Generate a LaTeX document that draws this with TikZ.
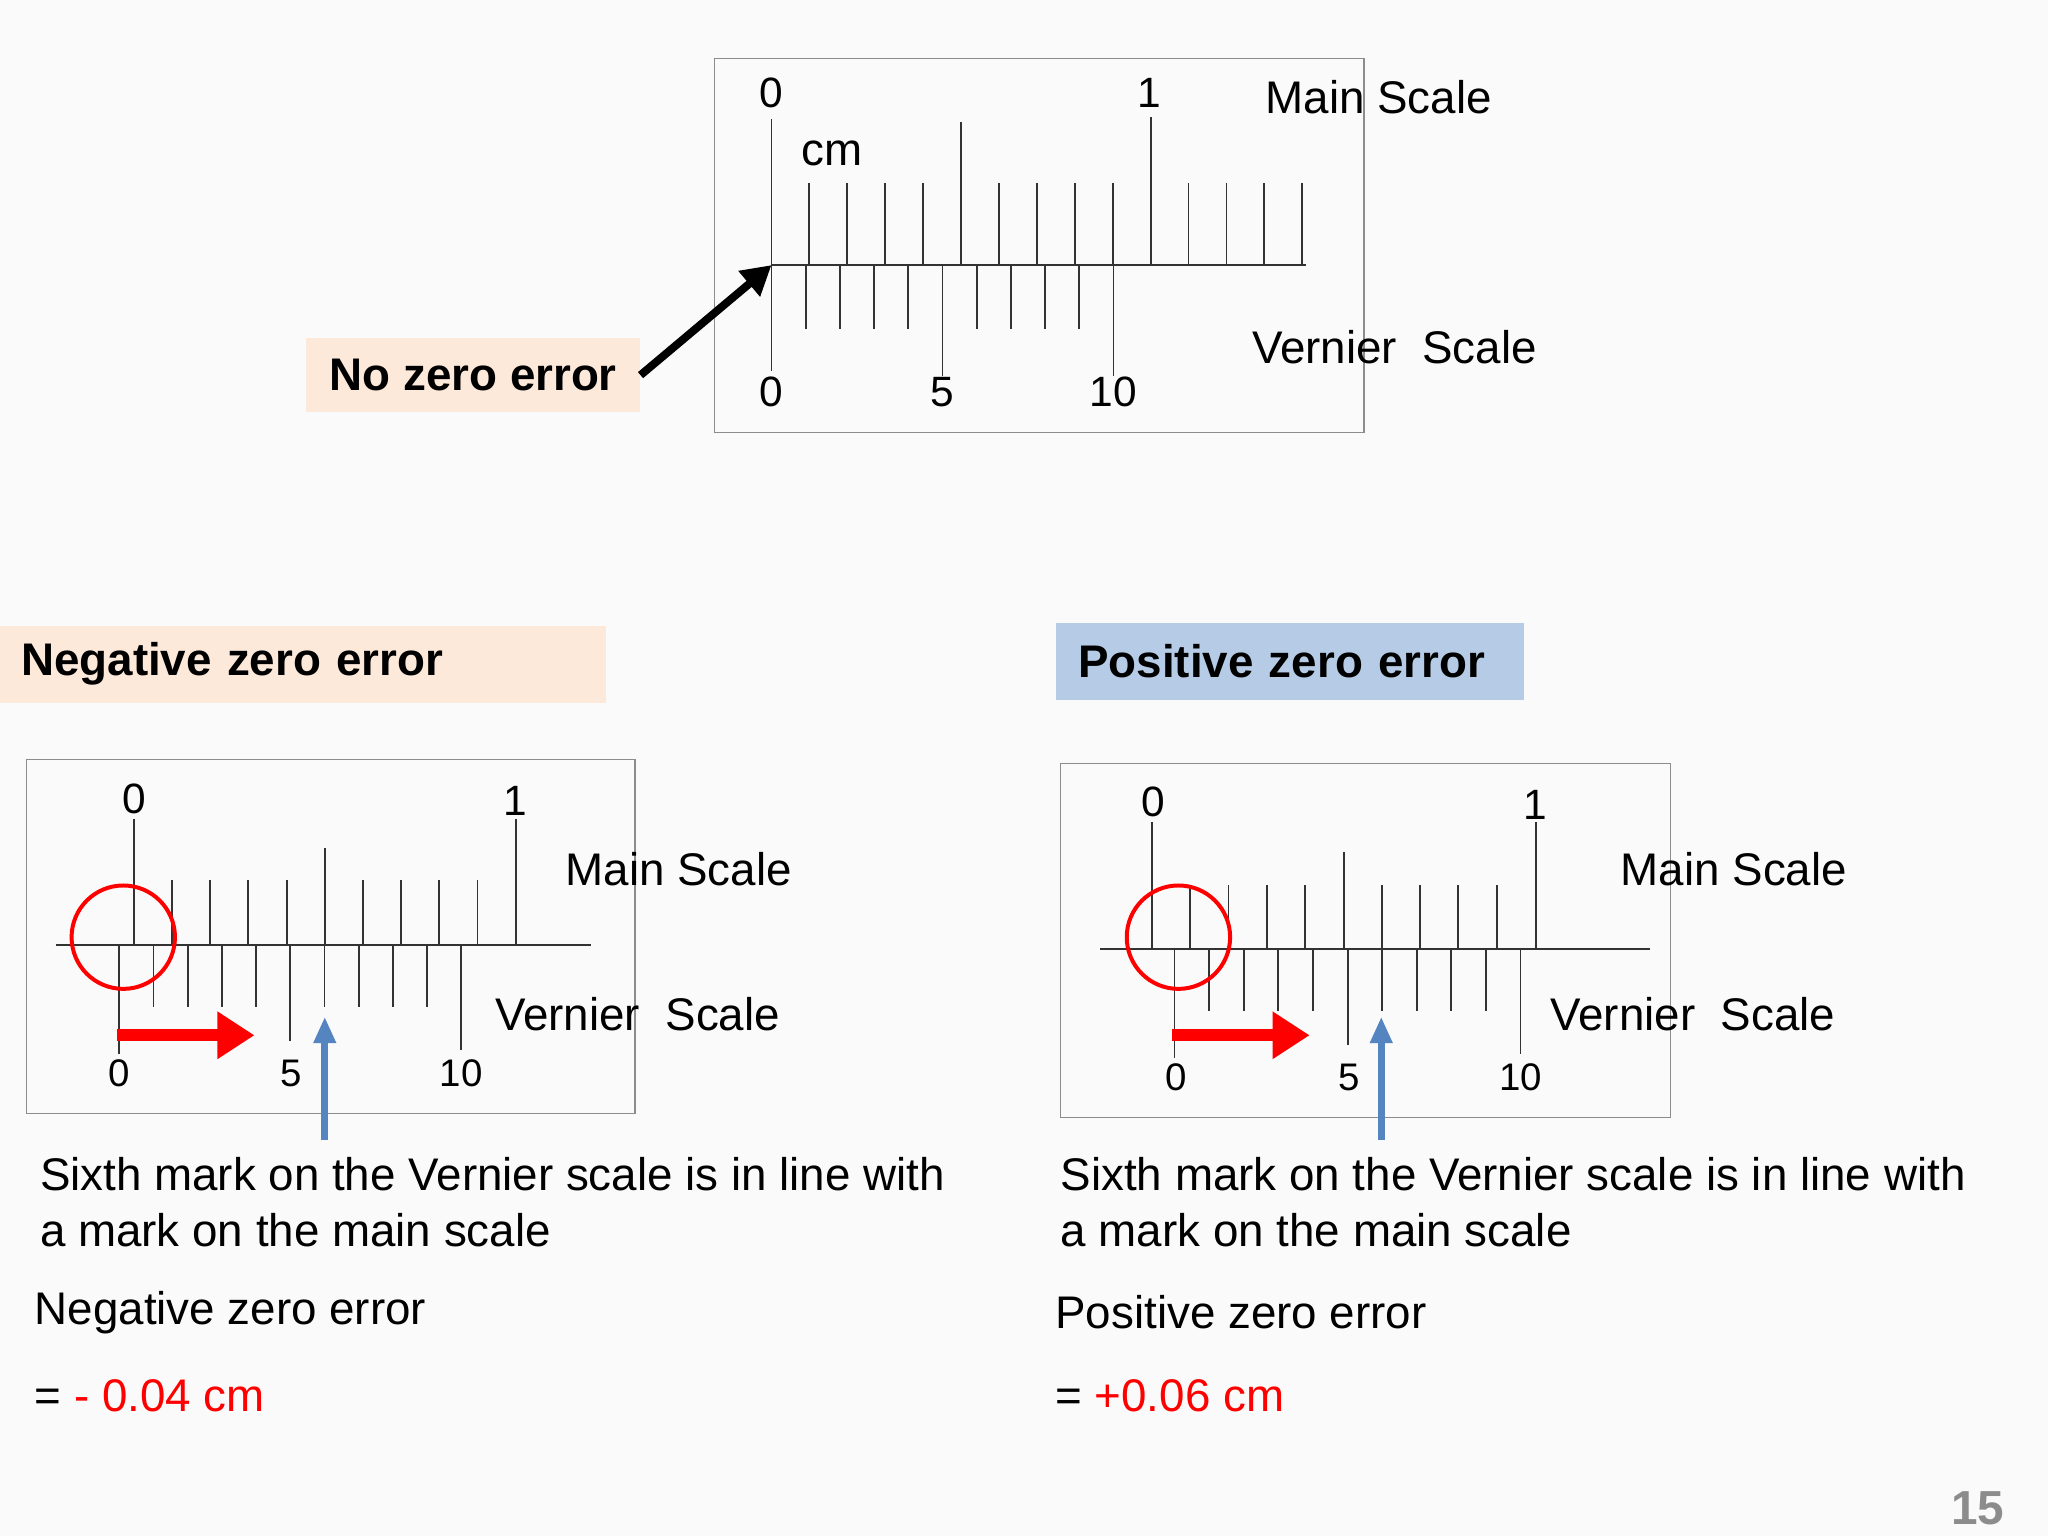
\documentclass[tikz,border=0pt]{standalone}
\usepackage{fontspec}
\setmainfont{Liberation Sans}
\usetikzlibrary{arrows.meta}
\definecolor{peach}{HTML}{FCE9DA}
\definecolor{lblue}{HTML}{B6CCE6}
\definecolor{barrow}{HTML}{5585C0}
\tikzset{
 tk/.style={line width=1.4pt,black!80},
 frm/.style={draw=black!45,line width=0.9pt},
 big/.style={font=\fontsize{34.5}{42}\selectfont},
 num/.style={font=\fontsize{32}{36}\selectfont},
 snum/.style={font=\fontsize{29}{32}\selectfont},
 lbl/.style={font=\bfseries\fontsize{34.5}{40}\selectfont},
 txt/.style={big,anchor=west,inner sep=0pt},
 redarr/.style={draw=red,line width=9pt,-{Triangle[length=28pt,width=34pt]}},
 bluarr/.style={draw=barrow,line width=5pt,-{Triangle[length=20pt,width=16pt]}},
}
\begin{document}
\begin{tikzpicture}[x=1pt,y=-1pt]
\useasboundingbox[fill=black!2] (0,0) rectangle (1545,1159);
% ===== top
\draw[frm] (539,44) rectangle (1029,326);
\draw[tk] (582,200) -- (985,200);
\draw[tk] (582,200) -- (582,90);
\foreach \i in {1,...,14}{\draw[tk] ({582+28.6*\i},200) -- ({582+28.6*\i},138);}
\draw[tk] (725,200) -- (725,92);
\draw[tk] (868,200) -- (868,88);
\foreach \i in {0,...,10}{\draw[tk] ({582+25.8*\i},200) -- ({582+25.8*\i},248);}
\draw[tk] (582,200) -- (582,280);
\draw[tk] (711,200) -- (711,284);
\draw[tk] (840,200) -- (840,284);
\node[num] (t0) at (582,70) {0};
\node[num] (t1) at (867,70) {1};
\node[big] (tcm) at (628,116) {cm};
\node[big] (tms) at (1040,73) {Main Scale};
\node[big] (tvs) at (1052,262) {Vernier\ \ Scale};
\node[num] (v0) at (582,296) {0};
\node[num] (v5) at (711,296) {5};
\node[num] (v10) at (840,296) {10};
\node[lbl,fill=peach,minimum width=252pt,minimum height=56pt] (nze) at (357,283) {No zero error};
\coordinate (z0) at (582,200);
\draw[line width=6pt,-{Triangle[length=22pt,width=24pt]}] (nze.east) -- (z0);
% ===== negative
\node[lbl,fill=peach,minimum width=457pt,minimum height=58pt,text width=425pt,align=left] (neg) at (228.5,501) {Negative zero error};
\draw[frm] (20,573) rectangle (479,840);
\draw[tk] (42,713) -- (446,713);
\draw[tk] (101,713) -- (101,618);
\foreach \i in {1,...,9}{\draw[tk] ({101+28.8*\i},713) -- ({101+28.8*\i},664);}
\draw[tk] (245,713) -- (245,640);
\draw[tk] (389,713) -- (389,618);
\foreach \i in {0,...,10}{\draw[tk] ({90+25.8*\i},713) -- ({90+25.8*\i},760);}
\draw[tk] (90,713) -- (90,795);
\draw[tk] (219,713) -- (219,785);
\draw[tk] (348,713) -- (348,792);
\node[num] (n0) at (101,603) {0};
\node[num] (n1) at (389,604) {1};
\node[big] (nms) at (512,656) {Main Scale};
\node[big] (nvs) at (481,765) {Vernier\ \ Scale};
\node[snum] (nv0) at (90,810) {0};
\node[snum] (nv5) at (220,810) {5};
\node[snum] (nv10) at (348,810) {10};
\node[draw=red,line width=3pt,circle,minimum size=78pt] (nc) at (93,707) {};
\coordinate (nra) at (88,781); \coordinate (nrb) at (192,781);
\draw[redarr] (nra) -- (nrb);
\coordinate (nba) at (245,860); \coordinate (nbb) at (245,767);
\draw[bluarr] (nba) -- (nbb);
\node[txt] (nt1) at (30,886) {Sixth mark on the Vernier scale is in line with};
\node[txt] (nt2) at (30,928) {a mark on the main scale};
\node[txt] (nt3) at (26,990) {Negative zero error};
\node[txt] (nt4) at (26,1053) {= \textcolor{red}{- 0.04 cm}};
% ===== positive
\node[lbl,fill=lblue,minimum width=353pt,minimum height=58pt,text width=320pt,align=left] (pos) at (973.5,499) {Positive zero error};
\draw[frm] (800,576) rectangle (1260,843);
\draw[tk] (830,716) -- (1245,716);
\draw[tk] (869,716) -- (869,620);
\foreach \i in {1,...,9}{\draw[tk] ({869+28.9*\i},716) -- ({869+28.9*\i},668);}
\draw[tk] (1014,716) -- (1014,643);
\draw[tk] (1159,716) -- (1159,620);
\foreach \i in {0,...,10}{\draw[tk] ({886+26.1*\i},716) -- ({886+26.1*\i},763);}
\draw[tk] (886,716) -- (886,798);
\draw[tk] (1017,716) -- (1017,788);
\draw[tk] (1147,716) -- (1147,795);
\node[num] (p0) at (870,605) {0};
\node[num] (p1) at (1158,607) {1};
\node[big] (pms) at (1308,656) {Main Scale};
\node[big] (pvs) at (1277,765) {Vernier\ \ Scale};
\node[snum] (pv0) at (887,813) {0};
\node[snum] (pv5) at (1018,813) {5};
\node[snum] (pv10) at (1147,813) {10};
\node[draw=red,line width=3pt,circle,minimum size=78pt] (pc) at (889,707) {};
\coordinate (pra) at (884,781); \coordinate (prb) at (988,781);
\draw[redarr] (pra) -- (prb);
\coordinate (pba) at (1042,860); \coordinate (pbb) at (1042,767);
\draw[bluarr] (pba) -- (pbb);
\node[txt] (pt1) at (800,886) {Sixth mark on the Vernier scale is in line with};
\node[txt] (pt2) at (800,928) {a mark on the main scale};
\node[txt] (pt3) at (796,990) {Positive zero error};
\node[txt] (pt4) at (796,1053) {= \textcolor{red}{+0.06 cm}};
\node[font=\bfseries\fontsize{36}{40}\selectfont,text=black!45] (pg) at (1492,1138) {15};
\end{tikzpicture}
\end{document}
